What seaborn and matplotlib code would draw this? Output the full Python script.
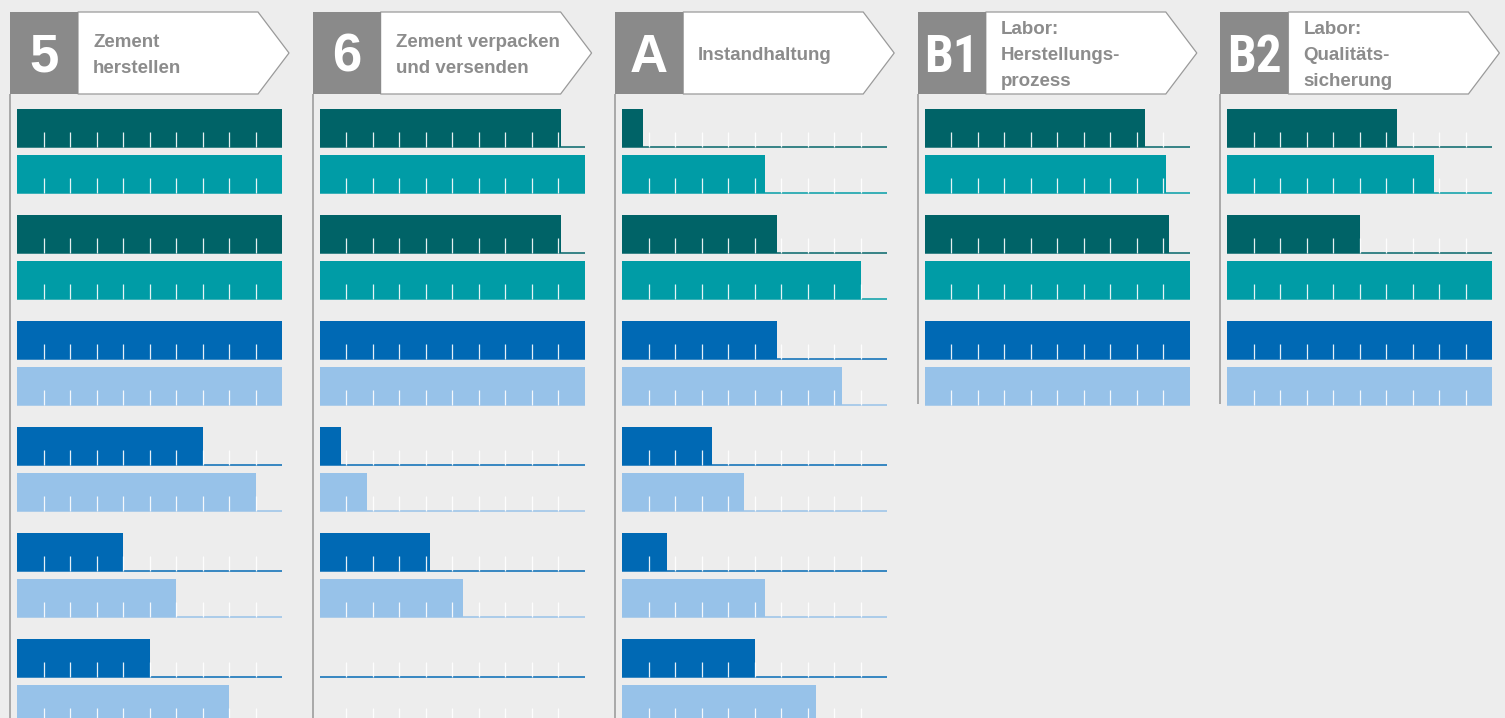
import matplotlib
matplotlib.use("Agg")
import matplotlib.pyplot as plt
import seaborn as sns
import pandas as pd
from matplotlib.patches import Rectangle, Polygon

# --- Daten ---
codes = ["5", "6", "A", "B1", "B2"]
titles = ["Zement\nherstellen",
          "Zement verpacken\nund versenden",
          "Instandhaltung",
          "Labor:\nHerstellungs-\nprozess",
          "Labor:\nQualitäts-\nsicherung"]
row_kind = ["dunkelgrün", "grün", "dunkelgrün", "grün", "blau", "hellblau",
            "blau", "hellblau", "blau", "hellblau", "blau", "hellblau"]
werte_5 = [100, 100, 100, 100, 100, 100, 70, 90, 40, 60, 50, 80]
werte_6 = [91, 100, 91, 100, 100, 100, 8, 18, 41.5, 54, 0, 0]
werte_A = [8, 54, 58.5, 90, 58.5, 83, 34, 46, 17, 54, 50, 73]
werte_B1 = [83, 91, 92, 100, 100, 100]
werte_B2 = [64, 78, 50, 100, 100, 100]
alle_werte = [werte_5, werte_6, werte_A, werte_B1, werte_B2]

farben = {"dunkelgrün": "#006367", "grün": "#009ca6",
          "blau": "#0069b4", "hellblau": "#97c2e9"}

BG = "#ededed"
W, H = 1505, 718

sns.set_theme(style="white")
plt.rcParams["font.family"] = ["Liberation Sans", "DejaVu Sans"]

fig = plt.figure(figsize=(W / 100, H / 100), dpi=100, facecolor=BG)

# Überlagerung in Pixelkoordinaten für die Kopfzeilen
hdr = fig.add_axes([0, 0, 1, 1])
hdr.set_xlim(0, W)
hdr.set_ylim(H, 0)
hdr.axis("off")

for i, (code, titel, werte) in enumerate(zip(codes, titles, alle_werte)):
    L = 10 + 302.6 * i
    n = len(werte)

    # Spaltenlinie
    y_end = H if n == 12 else 404
    hdr.plot([L, L], [94, y_end], color="#a3a3a3", lw=1.3, solid_capstyle="butt")

    # Pfeilkasten
    hdr.add_patch(Polygon([(L + 68, 12), (L + 248, 12), (L + 279, 53),
                           (L + 248, 94), (L + 68, 94)], closed=True,
                          facecolor="white", edgecolor="#9a9a9a", lw=0.9))
    hdr.add_patch(Rectangle((L, 12), 68, 82, facecolor="#8a8a8a", edgecolor="none"))
    if code.startswith("B"):
        hdr.text(L + 34, 72, code, ha="center", va="baseline", color="white",
                 fontsize=37, fontweight="bold",
                 family=["Roboto Condensed", "Liberation Sans Narrow", "Liberation Sans"])
    else:
        hdr.text(L + 34, 72, code, ha="center", va="baseline", color="white",
                 fontsize=38, fontweight="bold")
    hdr.text(L + 83, 55.5, titel, ha="left", va="center", color="#8c8c8c",
             fontsize=13.5, fontweight="bold", linespacing=1.72)

    # Balken
    mitten = [128 + 106 * (k // 2) + 46 * (k % 2) for k in range(n)]
    unten = [m + 19 for m in mitten]
    df = pd.DataFrame({"wert": werte, "pos": mitten, "art": row_kind[:n]})

    x0 = L + 7
    ax = fig.add_axes([x0 / W, 0, 265 / W, (H - 95) / H])
    sns.barplot(data=df, x="wert", y="pos", hue="art", palette=farben,
                orient="y", native_scale=True, width=38 / 46, saturation=1,
                linewidth=0, legend=False, ax=ax)
    ax.set_xlim(0, 100)
    ax.set_ylim(H, 95)
    ax.axis("off")

    for b, art in zip(unten, row_kind[:n]):
        ax.hlines(b, 0, 100, colors=farben[art], lw=1.2, alpha=0.9, zorder=3)
        ax.vlines(range(10, 100, 10), b - 15, b - 0.5, colors="white",
                  lw=0.9, alpha=0.9, zorder=4)

fig.savefig("out.png", dpi=100, facecolor=BG)
